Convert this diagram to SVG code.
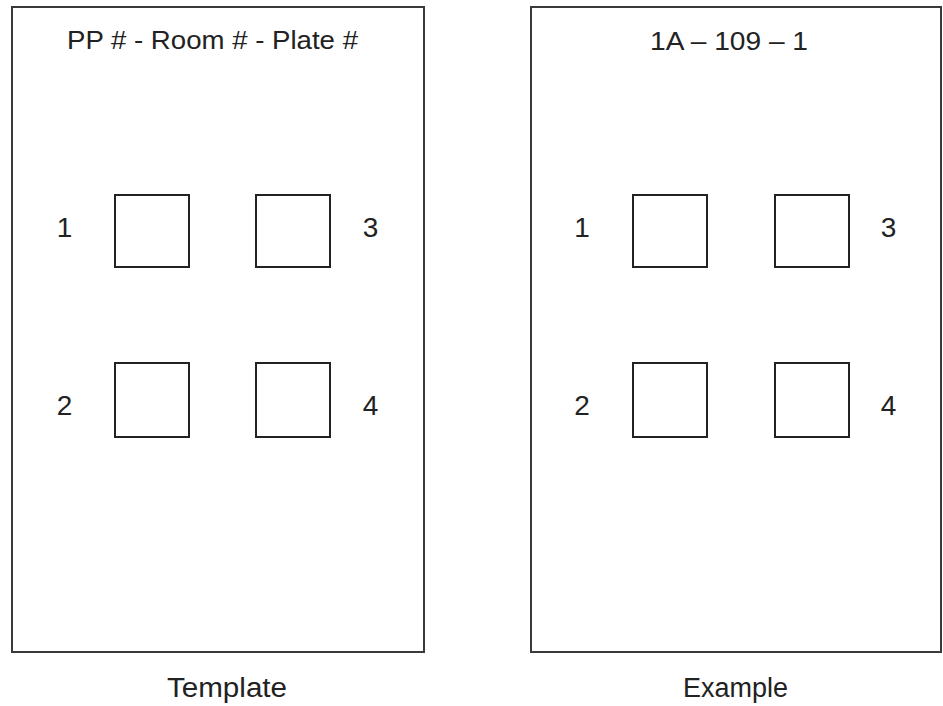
<svg xmlns="http://www.w3.org/2000/svg" width="943" height="706" viewBox="0 0 943 706">
<style>
.panel{fill:#fff;stroke:#3a3a3a;stroke-width:2}
.box{fill:#fff;stroke:#222;stroke-width:2}
text{font-family:"Liberation Sans",Arial,sans-serif;fill:#222}
.title{font-size:25px}
.num{font-size:28px;text-anchor:middle}
.cap{font-size:27px}
</style>
<rect width="943" height="706" fill="#fff"/>
<g id="template">
<rect class="panel" x="12" y="7" width="412" height="645"/>
<text class="title" x="67" y="49" textLength="291" lengthAdjust="spacingAndGlyphs">PP # - Room # - Plate #</text>
<rect class="box" x="115" y="195" width="74" height="72"/>
<rect class="box" x="256" y="195" width="74" height="72"/>
<rect class="box" x="115" y="363" width="74" height="74"/>
<rect class="box" x="256" y="363" width="74" height="74"/>
<text class="num" x="64.5" y="237">1</text>
<text class="num" x="370.5" y="237">3</text>
<text class="num" x="64.5" y="415">2</text>
<text class="num" x="370.5" y="415">4</text>
</g>
<g id="example">
<rect class="panel" x="531" y="7" width="410" height="645"/>
<text class="title" x="650" y="50" textLength="158" lengthAdjust="spacingAndGlyphs">1A – 109 – 1</text>
<rect class="box" x="633" y="195" width="74" height="72"/>
<rect class="box" x="775" y="195" width="74" height="72"/>
<rect class="box" x="633" y="363" width="74" height="74"/>
<rect class="box" x="775" y="363" width="74" height="74"/>
<text class="num" x="582" y="237">1</text>
<text class="num" x="888.5" y="237">3</text>
<text class="num" x="582" y="415">2</text>
<text class="num" x="888.5" y="415">4</text>
</g>
<g id="labels">
<text class="cap" x="167" y="697" textLength="120" lengthAdjust="spacingAndGlyphs">Template</text>
<text class="cap" x="683" y="697" textLength="105" lengthAdjust="spacingAndGlyphs">Example</text>
</g>
<g id="connectors"></g>
</svg>
